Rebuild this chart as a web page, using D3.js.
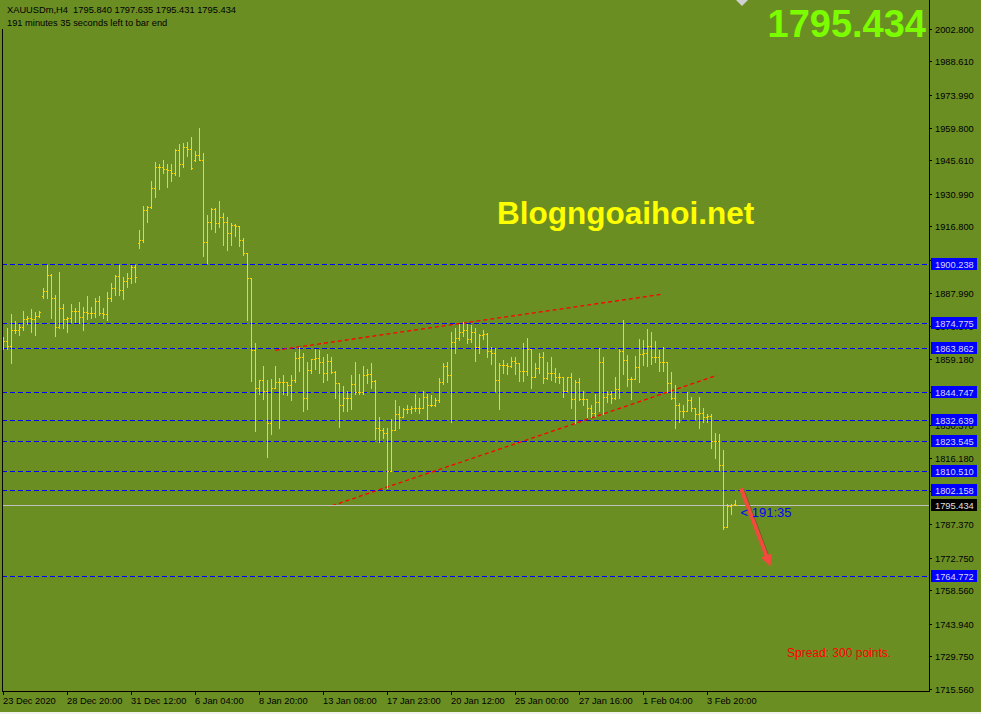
<!DOCTYPE html>
<html>
<head>
<meta charset="utf-8">
<title>XAUUSDm,H4</title>
<script src="https://d3js.org/d3.v7.min.js"></script>
<style>
    body { margin: 0; background: #f0f0f0; }
    svg { display: block; }
    text { font-family: 'Liberation Sans', Arial, sans-serif; }
</style>
</head>
<body>
<svg></svg>
<script>
    // ---- data (H4 bars) ----
    var symbol = 'XAUUSDm,H4';
    var opens = [1865.9,1866.8,1864.6,1871.6,1871.6,1872.9,1876.4,1876.8,1876.4,1877.7,1886.4,1888.6,1895.6,1885.5,1872.9,1881.2,1876.4,1876.8,1879.9,1879.9,1877.3,1879.4,1879.0,1879.0,1884.2,1879.0,1878.6,1885.5,1889.9,1895.1,1889.0,1893.0,1894.3,1899.1,1909.5,1910.8,1923.9,1925.2,1933.5,1942.6,1942.6,1941.8,1941.3,1940.0,1950.1,1943.9,1951.4,1950.5,1945.7,1947.9,1945.7,1909.9,1918.7,1924.3,1918.2,1920.8,1918.7,1913.9,1917.4,1916.9,1910.8,1905.2,1894.3,1862.9,1846.7,1849.8,1845.0,1831.1,1846.3,1848.9,1848.9,1848.9,1847.6,1849.8,1859.4,1859.8,1842.0,1854.2,1859.0,1859.4,1857.6,1852.9,1858.1,1853.3,1848.5,1839.3,1842.0,1842.0,1848.1,1844.6,1844.6,1852.0,1852.4,1849.4,1829.3,1828.4,1827.1,1810.6,1828.4,1835.0,1833.7,1837.2,1837.2,1837.6,1837.6,1837.6,1842.4,1839.3,1839.3,1841.1,1848.9,1855.9,1852.0,1866.4,1868.1,1870.7,1871.6,1867.7,1870.7,1864.2,1869.4,1869.8,1862.4,1861.6,1849.8,1856.3,1856.3,1855.9,1858.1,1857.2,1853.7,1853.7,1863.3,1851.5,1855.0,1859.8,1850.7,1852.9,1852.9,1851.5,1851.1,1845.4,1851.1,1841.5,1848.9,1841.5,1841.5,1838.0,1835.8,1840.6,1857.6,1842.8,1843.7,1842.0,1845.9,1862.4,1858.5,1850.2,1850.2,1855.5,1861.1,1861.6,1864.6,1859.8,1859.8,1857.6,1857.6,1848.5,1842.0,1838.9,1836.7,1836.7,1841.1,1838.0,1835.0,1835.8,1834.1,1834.5,1823.6,1823.6,1812.8,1786.2,1795.3,1795.840];
    var highs = [1868.5,1872.5,1878.6,1875.5,1874.2,1879.9,1877.7,1880.7,1879.4,1879.9,1889.9,1899.9,1896.0,1886.9,1896.9,1882.9,1877.3,1882.9,1881.2,1883.8,1881.6,1886.4,1881.6,1885.5,1886.4,1881.2,1888.2,1892.1,1895.6,1899.9,1894.7,1896.4,1899.9,1899.9,1915.2,1925.6,1925.6,1936.5,1944.8,1943.9,1945.7,1943.9,1943.9,1950.5,1952.7,1953.1,1953.5,1955.7,1949.6,1959.6,1948.7,1921.7,1924.8,1924.8,1927.8,1922.6,1920.8,1918.2,1917.8,1916.9,1911.7,1905.2,1894.3,1865.9,1849.8,1855.9,1849.8,1850.2,1855.9,1850.7,1852.0,1848.9,1852.0,1862.0,1864.2,1861.6,1857.6,1859.0,1863.3,1862.9,1859.8,1861.1,1859.8,1853.7,1848.5,1847.2,1845.4,1852.0,1857.6,1852.4,1855.9,1854.6,1857.2,1849.8,1833.7,1828.9,1829.3,1832.8,1841.1,1838.5,1838.0,1839.3,1838.5,1843.7,1842.0,1845.4,1843.7,1843.3,1842.0,1850.7,1857.2,1857.6,1870.7,1872.5,1874.2,1875.1,1874.2,1873.8,1872.5,1869.8,1871.6,1870.3,1864.2,1863.8,1857.2,1858.5,1857.2,1859.8,1859.8,1857.2,1865.9,1868.1,1863.3,1857.2,1861.6,1862.0,1857.6,1859.8,1855.0,1852.9,1851.5,1851.5,1852.9,1849.8,1850.7,1845.4,1841.5,1839.3,1843.7,1863.8,1859.8,1845.0,1845.0,1851.5,1863.3,1876.0,1860.7,1851.5,1860.3,1867.7,1867.2,1872.0,1870.7,1866.8,1862.9,1864.2,1857.6,1853.3,1847.6,1839.8,1839.3,1844.6,1842.4,1838.0,1842.4,1838.0,1835.0,1835.0,1827.1,1826.7,1819.7,1796.2,1796.2,1797.635];
    var lows = [1863.3,1863.3,1857.2,1870.3,1869.4,1871.6,1874.2,1870.7,1869.4,1877.3,1885.5,1885.5,1876.8,1869.0,1872.5,1872.5,1870.7,1875.1,1875.1,1874.6,1871.6,1876.4,1876.8,1877.3,1878.1,1876.8,1876.0,1884.2,1886.9,1886.9,1885.1,1890.3,1892.1,1892.5,1907.3,1909.9,1918.7,1924.8,1929.6,1933.1,1940.0,1933.9,1936.5,1939.2,1938.7,1942.6,1947.4,1941.8,1945.3,1945.7,1903.9,1900.8,1915.6,1914.3,1916.5,1908.6,1906.5,1908.6,1912.6,1908.2,1904.3,1876.0,1849.4,1828.0,1844.1,1841.5,1816.7,1826.7,1846.3,1828.9,1844.1,1843.3,1841.1,1848.9,1853.7,1836.3,1837.2,1852.9,1854.6,1852.9,1848.9,1849.8,1852.9,1842.0,1829.7,1836.3,1836.3,1837.2,1844.1,1844.1,1844.1,1848.5,1846.7,1824.5,1823.2,1824.9,1803.2,1810.6,1828.4,1829.3,1833.7,1835.8,1835.8,1836.3,1835.8,1837.6,1832.8,1838.5,1838.5,1840.2,1848.1,1848.9,1831.9,1861.6,1867.2,1869.0,1865.9,1866.4,1858.1,1861.6,1867.7,1859.8,1856.8,1845.0,1837.2,1852.9,1852.4,1855.5,1852.4,1849.4,1849.4,1852.0,1846.7,1851.1,1852.9,1848.5,1850.2,1849.8,1848.9,1848.5,1842.8,1845.0,1838.0,1831.1,1841.1,1839.3,1833.7,1834.1,1834.5,1836.7,1835.4,1840.2,1839.8,1841.5,1842.0,1852.4,1847.2,1841.5,1850.2,1848.9,1856.3,1855.9,1856.8,1857.6,1853.7,1853.7,1844.6,1841.5,1829.3,1831.5,1834.1,1836.7,1836.7,1832.8,1829.3,1831.5,1831.5,1820.6,1816.2,1811.0,1785.3,1786.2,1791.8,1795.431];
    var closes = [1866.8,1864.6,1871.6,1871.6,1872.9,1876.4,1876.8,1876.4,1877.7,1879.4,1888.6,1895.6,1885.5,1872.9,1881.2,1876.4,1876.8,1879.9,1879.9,1877.3,1879.4,1879.0,1879.0,1884.2,1879.0,1878.6,1885.5,1889.9,1895.1,1889.0,1893.0,1894.3,1899.1,1894.7,1910.8,1923.9,1925.2,1933.5,1942.6,1942.6,1941.8,1941.3,1940.0,1950.1,1943.9,1951.4,1950.5,1942.2,1947.9,1945.7,1909.9,1918.7,1924.3,1918.2,1920.8,1918.7,1913.9,1917.4,1916.9,1910.8,1905.2,1894.3,1862.9,1846.7,1849.8,1845.0,1831.1,1846.3,1848.9,1848.9,1848.9,1847.6,1849.8,1859.4,1859.8,1842.0,1854.2,1859.0,1859.4,1857.6,1852.9,1858.1,1853.3,1848.5,1839.3,1842.0,1842.0,1848.1,1844.6,1844.6,1852.0,1852.4,1849.4,1829.3,1828.4,1827.1,1810.6,1828.4,1835.0,1833.7,1837.2,1837.2,1837.6,1837.6,1837.6,1842.4,1839.3,1839.3,1841.1,1848.9,1855.9,1852.0,1866.4,1868.1,1870.7,1871.6,1867.7,1870.7,1864.2,1869.4,1869.8,1862.4,1861.6,1849.8,1856.3,1856.3,1855.9,1858.1,1857.2,1853.7,1853.7,1863.3,1851.5,1855.0,1859.8,1850.7,1852.9,1852.9,1851.5,1851.1,1845.4,1851.1,1841.5,1848.9,1841.5,1841.5,1838.0,1835.8,1840.6,1857.6,1842.8,1843.7,1842.0,1845.9,1862.4,1858.5,1850.2,1850.2,1855.5,1861.1,1861.6,1864.6,1859.8,1859.8,1857.6,1857.6,1848.5,1842.0,1838.9,1836.7,1836.7,1841.1,1838.0,1835.0,1835.8,1834.1,1834.5,1823.6,1823.6,1812.8,1786.2,1795.3,1795.7,1795.434];

    // one time label every 16 bars
    var timeLabels = ['23 Dec 2020', '28 Dec 20:00', '31 Dec 12:00', '6 Jan 04:00', '8 Jan 20:00', '13 Jan 08:00',
        '17 Jan 23:00', '20 Jan 12:00', '25 Jan 00:00', '27 Jan 16:00', '1 Feb 04:00', '3 Feb 20:00'];
    var priceTicks = [2002.800, 1988.610, 1973.990, 1959.800, 1945.610, 1930.990, 1916.800, 1902.180, 1887.990,
        1873.370, 1859.180, 1844.560, 1830.370, 1816.180, 1801.560, 1787.370, 1772.750, 1758.560, 1743.940,
        1729.750, 1715.560];
    var levels = [1900.238, 1874.775, 1863.862, 1844.747, 1832.639, 1823.545, 1810.510, 1802.158, 1764.772];
    // trend lines: [bar index, price] -> [bar index, price]
    var trendLines = [
        [[68.0, 1862.9], [164.7, 1887.3]],
        [[82.2, 1795.3], [178.4, 1852.0]]
    ];
    var arrowPts = [[184.4, 1802.8], [191.2, 1771.3]];
    var timeLeft = '191:35';
    var spreadPoints = 300;

    var nBars = closes.length;
    var lastClose = closes[nBars - 1];

    // ---- layout ----
    var vWidth = 981, vHeight = 714;
    var pLeft = 2, pTop = 0, pRight = 929, pBottom = 691;
    var bg = '#6b8e23';
    var barColor = '#ffd700';

    var svg = d3.select('svg').attr('width', vWidth).attr('height', vHeight);

    var x = d3.scaleLinear().domain([0, nBars - 1]).range([3.5, 3.5 + 4 * (nBars - 1)]);
    var y = d3.scaleLinear().domain([1715.56, 2002.8]).range([689, 28.7]);
    function py(v) { return Math.round(y(v)) + 0.5; }

    svg.append('rect').attr('width', vWidth).attr('height', vHeight).attr('fill', bg);
    svg.append('rect').attr('y', 712).attr('width', vWidth).attr('height', 2).attr('fill', '#f0f0f0');

    svg.append('clipPath').attr('id', 'plotClip')
        .append('rect').attr('x', pLeft).attr('y', pTop)
        .attr('width', pRight - pLeft).attr('height', pBottom - pTop);

    var plot = svg.append('g').attr('clip-path', 'url(#plotClip)');

    // watermark
    plot.append('text')
        .attr('x', 497).attr('y', 224)
        .attr('fill', '#ffff00')
        .attr('font-size', 31.5).attr('font-weight', 'bold')
        .text('Blogngoaihoi.net');

    // horizontal levels
    plot.selectAll('line.level').data(levels).enter().append('line')
        .attr('class', 'level')
        .attr('x1', pLeft).attr('x2', pRight)
        .attr('y1', function(d) { return py(d); })
        .attr('y2', function(d) { return py(d); })
        .attr('stroke', '#0000ff').attr('stroke-dasharray', '5,3')
        .attr('shape-rendering', 'crispEdges');

    // trend lines
    plot.selectAll('line.trend').data(trendLines).enter().append('line')
        .attr('class', 'trend')
        .attr('x1', function(d) { return x(d[0][0]); })
        .attr('y1', function(d) { return y(d[0][1]); })
        .attr('x2', function(d) { return x(d[1][0]); })
        .attr('y2', function(d) { return y(d[1][1]); })
        .attr('stroke', '#ff0000').attr('stroke-width', 1.3)
        .attr('stroke-dasharray', '4,3');

    // bid line
    plot.append('line')
        .attr('x1', pLeft).attr('x2', pRight)
        .attr('y1', py(lastClose)).attr('y2', py(lastClose))
        .attr('stroke', '#c0c0c0').attr('shape-rendering', 'crispEdges');

    // OHLC bars
    var idx = d3.range(nBars);
    var bars = plot.append('g').attr('stroke', barColor).attr('shape-rendering', 'crispEdges');
    bars.selectAll('line.hl').data(idx).enter().append('line')
        .attr('x1', function(i) { return x(i); }).attr('x2', function(i) { return x(i); })
        .attr('y1', function(i) { return py(highs[i]) - 0.5; })
        .attr('y2', function(i) { return py(lows[i]) + 0.5; });
    bars.selectAll('line.op').data(idx).enter().append('line')
        .attr('x1', function(i) { return x(i) - 1.5; }).attr('x2', function(i) { return x(i) - 0.5; })
        .attr('y1', function(i) { return py(opens[i]); })
        .attr('y2', function(i) { return py(opens[i]); });
    bars.selectAll('line.cl').data(idx).enter().append('line')
        .attr('x1', function(i) { return x(i) + 0.5; }).attr('x2', function(i) { return x(i) + 1.5; })
        .attr('y1', function(i) { return py(closes[i]); })
        .attr('y2', function(i) { return py(closes[i]); });

    // arrow
    var defs = svg.append('defs');
    defs.append('marker').attr('id', 'head')
        .attr('viewBox', '0 0 10 10').attr('refX', 5).attr('refY', 5)
        .attr('markerWidth', 3).attr('markerHeight', 3).attr('orient', 'auto')
        .append('path').attr('d', 'M0,0L10,5L0,10z').attr('fill', '#f24b3d');
    plot.append('line')
        .attr('x1', x(arrowPts[0][0]) + 1).attr('y1', y(arrowPts[0][1]) + 1)
        .attr('x2', x(arrowPts[1][0]) + 1).attr('y2', y(arrowPts[1][1]) + 1)
        .attr('stroke', '#2e3a10').attr('stroke-opacity', 0.5).attr('stroke-width', 4);
    plot.append('line')
        .attr('x1', x(arrowPts[0][0])).attr('y1', y(arrowPts[0][1]))
        .attr('x2', x(arrowPts[1][0])).attr('y2', y(arrowPts[1][1]))
        .attr('stroke', '#f24b3d').attr('stroke-width', 4)
        .attr('marker-end', 'url(#head)');

    // timer label
    plot.append('text')
        .attr('x', x(nBars - 1) + 5).attr('y', py(lastClose) + 11)
        .attr('fill', '#0000ff').attr('font-size', 13)
        .text('< ' + timeLeft);

    plot.append('text')
        .attr('x', 787).attr('y', 657)
        .attr('fill', '#ff0000').attr('font-size', 12)
        .text('Spread: ' + spreadPoints + ' points.');

    // big price
    plot.append('text')
        .attr('x', 926).attr('y', 37)
        .attr('text-anchor', 'end')
        .attr('fill', '#7cfc00').attr('font-size', 38).attr('font-weight', 'bold')
        .text(lastClose.toFixed(3));

    // chart shift marker
    svg.append('path').attr('d', 'M736,0L748,0L742,6z').attr('fill', '#d0d0d0');

    // frame
    svg.append('path')
        .attr('d', 'M2.5,29V691.5H929.5V0')
        .attr('fill', 'none').attr('stroke', '#000').attr('shape-rendering', 'crispEdges');

    // header
    svg.append('text').attr('x', 7).attr('y', 13).attr('font-size', 9.3).attr('fill', '#000')
        .attr('xml:space', 'preserve')
        .text(symbol + '  ' + opens[nBars - 1].toFixed(3) + ' ' + highs[nBars - 1].toFixed(3) + ' ' +
            lows[nBars - 1].toFixed(3) + ' ' + closes[nBars - 1].toFixed(3));
    svg.append('text').attr('x', 7).attr('y', 25.5).attr('font-size', 9.3).attr('fill', '#000')
        .text('191 minutes 35 seconds left to bar end');

    // price axis
    var ax = svg.append('g');
    ax.selectAll('line').data(priceTicks).enter().append('line')
        .attr('x1', pRight).attr('x2', pRight + 3)
        .attr('y1', function(d) { return py(d); }).attr('y2', function(d) { return py(d); })
        .attr('stroke', '#000').attr('shape-rendering', 'crispEdges');
    ax.selectAll('text').data(priceTicks).enter().append('text')
        .attr('x', 935).attr('y', function(d) { return py(d) + 3.5; })
        .attr('font-size', 9.3).attr('fill', '#000')
        .text(function(d) { return d.toFixed(3); });

    // level tags
    var tags = svg.append('g');
    tags.selectAll('rect').data(levels).enter().append('rect')
        .attr('x', 931).attr('y', function(d) { return py(d) - 6.5; })
        .attr('width', 46).attr('height', 12).attr('fill', '#0000ff');
    tags.selectAll('text').data(levels).enter().append('text')
        .attr('x', 935).attr('y', function(d) { return py(d) + 3.5; })
        .attr('font-size', 9.3).attr('fill', '#d8d8ff')
        .text(function(d) { return d.toFixed(3); });
    svg.append('rect').attr('x', 931).attr('y', py(lastClose) - 6.5)
        .attr('width', 46).attr('height', 12).attr('fill', '#000');
    svg.append('text').attr('x', 935).attr('y', py(lastClose) + 3.5)
        .attr('font-size', 9.3).attr('fill', '#e0e0e0').text(lastClose.toFixed(3));

    // time axis
    var tAx = svg.append('g');
    tAx.selectAll('line').data(timeLabels).enter().append('line')
        .attr('x1', function(d, i) { return x(i * 16); }).attr('x2', function(d, i) { return x(i * 16); })
        .attr('y1', pBottom).attr('y2', pBottom + 4)
        .attr('stroke', '#000').attr('shape-rendering', 'crispEdges');
    tAx.selectAll('text').data(timeLabels).enter().append('text')
        .attr('x', function(d, i) { return x(i * 16) - 0.5; }).attr('y', 704)
        .attr('font-size', 9.3).attr('fill', '#000')
        .text(function(d) { return d; });
</script>
</body>
</html>
